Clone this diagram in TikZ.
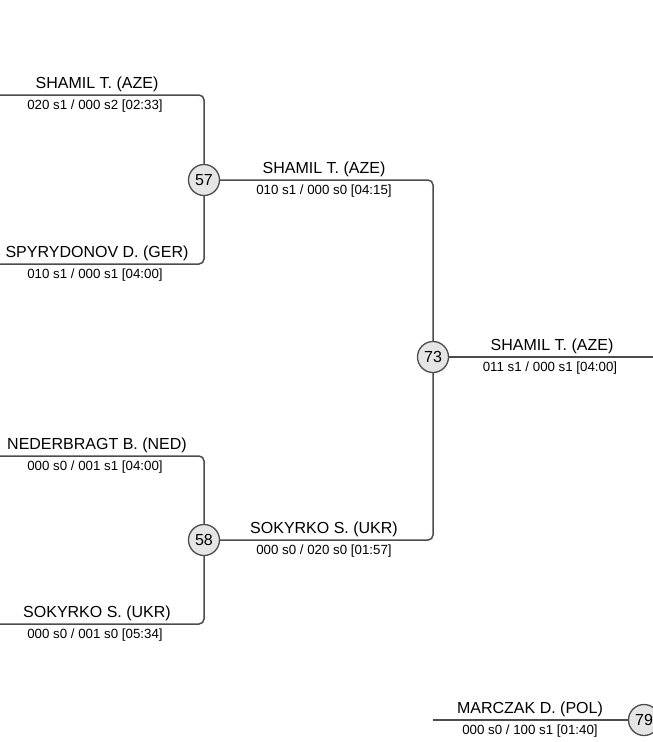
\documentclass[tikz,border=0pt]{standalone}
\usepackage{fontspec}
\setmainfont{Liberation Sans}
\begin{document}
\begin{tikzpicture}[x=1pt,y=-1pt,
  link/.style={draw=black!70, line width=1.5pt, rounded corners=5pt},
  bout/.style={circle, draw=black!70, line width=1.3pt, fill=black!10, minimum size=31pt, inner sep=0pt, font=\fontsize{16}{16}\selectfont},
  namelbl/.style={inner sep=0pt, font=\fontsize{16}{16}\selectfont},
  scorelbl/.style={inner sep=0pt, font=\fontsize{13.3}{13.3}\selectfont}]
\useasboundingbox (0,0) rectangle (653,742);
% circles
\node[bout] (c57) at (204,180) {57};
\node[bout] (c58) at (204,540) {58};
\node[bout] (c73) at (433,357) {73};
\node[bout] (c79) at (644,720) {79};
% free ends
\coordinate (a1) at (0,95);
\coordinate (a2) at (0,264);
\coordinate (a3) at (0,456);
\coordinate (a4) at (0,624);
\coordinate (e73) at (653,357);
\coordinate (m1) at (433,720);
% connectors
\draw[link] (a1) -| (c57);
\draw[link] (a2) -| (c57);
\draw[link] (a3) -| (c58);
\draw[link] (a4) -| (c58);
\draw[link] (c57) -| (c73);
\draw[link] (c58) -| (c73);
\draw[link] (c73) -- (e73);
\draw[link] (m1) -- (c79);
% labels
\node[namelbl] (n1) at (97,84.5) {SHAMIL T. (AZE)};
\node[scorelbl] (s1) at (95,106) {020 s1 / 000 s2 [02:33]};
\node[namelbl] (n2) at (97,253.5) {SPYRYDONOV D. (GER)};
\node[scorelbl] (s2) at (95,275) {010 s1 / 000 s1 [04:00]};
\node[namelbl] (n3) at (97,445.5) {NEDERBRAGT B. (NED)};
\node[scorelbl] (s3) at (95,467) {000 s0 / 001 s1 [04:00]};
\node[namelbl] (n4) at (97,613.5) {SOKYRKO S. (UKR)};
\node[scorelbl] (s4) at (95,635) {000 s0 / 001 s0 [05:34]};
\node[namelbl] (n5) at (324,169.5) {SHAMIL T. (AZE)};
\node[scorelbl] (s5) at (324,191) {010 s1 / 000 s0 [04:15]};
\node[namelbl] (n6) at (324,529.5) {SOKYRKO S. (UKR)};
\node[scorelbl] (s6) at (324,551) {000 s0 / 020 s0 [01:57]};
\node[namelbl] (n7) at (552,346.5) {SHAMIL T. (AZE)};
\node[scorelbl] (s7) at (550,368) {011 s1 / 000 s1 [04:00]};
\node[namelbl] (n8) at (530,709.5) {MARCZAK D. (POL)};
\node[scorelbl] (s8) at (530,731) {000 s0 / 100 s1 [01:40]};
\end{tikzpicture}
\end{document}
